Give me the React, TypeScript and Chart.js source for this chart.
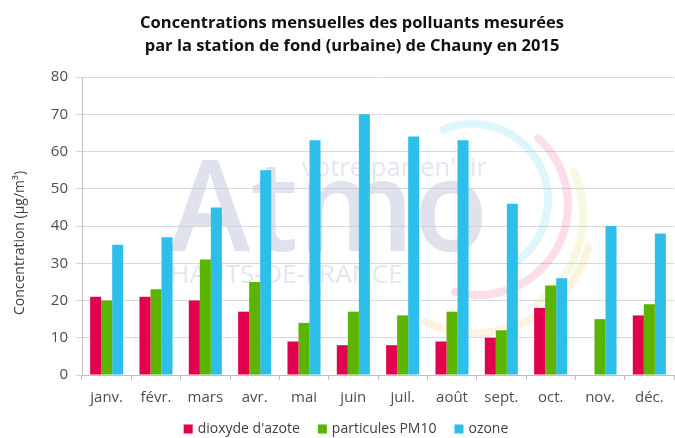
import React, { useEffect, useRef } from "react";
import { Chart, registerables } from "chart.js";

Chart.register(...registerables);

const months = ["janv.", "févr.", "mars", "avr.", "mai", "juin", "juil.", "août", "sept.", "oct.", "nov.", "déc."];
const no2 = [21, 21, 20, 17, 9, 8, 8, 9, 10, 18, null, 16];
const pm10 = [20, 23, 31, 25, 14, 17, 16, 17, 12, 24, 15, 19];
const ozone = [35, 37, 45, 55, 63, 70, 64, 63, 46, 26, 40, 38];
const seriesNames = ["dioxyde d'azote", "particules PM10", "ozone"];
const seriesColors = ["#E2004F", "#5AB400", "#2EBEEA"];
const titleLines = [
  "Concentrations mensuelles des polluants mesurées",
  "par la station de fond (urbaine) de Chauny en 2015",
];
const yAxisTitle = "Concentration (µg/m³)";

const FONT = '"Open Sans", "Noto Sans", sans-serif';

const watermarkPlugin = {
  id: "watermark",
  beforeDatasetsDraw(chart: any) {
    const ctx = chart.ctx;
    ctx.save();
    const arcs = [
      { r: 76, cx: 472, cy: 200, a0: -112, a1: 60, c: "rgba(46,190,234,0.16)" },
      { r: 90, cx: 478, cy: 205, a0: -48, a1: 105, c: "rgba(226,0,79,0.13)" },
      { r: 108, cx: 475, cy: 215, a0: -24, a1: 55, c: "rgba(200,210,40,0.15)" },
      { r: 118, cx: 475, cy: 215, a0: 16, a1: 115, c: "rgba(245,160,40,0.14)" },
    ];
    ctx.lineCap = "round";
    ctx.lineWidth = 8;
    for (const a of arcs) {
      ctx.strokeStyle = a.c;
      ctx.beginPath();
      ctx.arc(a.cx, a.cy, a.r, (a.a0 * Math.PI) / 180, (a.a1 * Math.PI) / 180);
      ctx.stroke();
    }
    ctx.fillStyle = "rgba(196,200,222,0.55)";
    ctx.font = `600 126px ${FONT}`;
    ctx.textBaseline = "alphabetic";
    ctx.textAlign = "left";
    let w = ctx.measureText("Atmo").width;
    ctx.save();
    ctx.translate(170, 251);
    ctx.scale(318 / w, 1);
    ctx.fillText("Atmo", 0, 0);
    ctx.restore();
    ctx.fillStyle = "rgba(200,205,225,0.5)";
    ctx.font = `26px ${FONT}`;
    w = ctx.measureText("HAUTS-DE-FRANCE").width;
    ctx.save();
    ctx.translate(170, 283);
    ctx.scale(233 / w, 1);
    ctx.fillText("HAUTS-DE-FRANCE", 0, 0);
    ctx.restore();
    w = ctx.measureText("votre parten'air").width;
    ctx.save();
    ctx.translate(302, 176);
    ctx.scale(185 / w, 1);
    ctx.fillText("votre parten'air", 0, 0);
    ctx.restore();
    ctx.restore();
  },
};

const textPlugin = {
  id: "texts",
  afterDraw(chart: any) {
    const ctx = chart.ctx;
    ctx.save();
    // title
    ctx.fillStyle = "#111111";
    ctx.font = `bold 16.5px ${FONT}`;
    ctx.textAlign = "center";
    ctx.textBaseline = "middle";
    ctx.fillText(titleLines[0], 352, 23);
    ctx.fillText(titleLines[1], 352, 46);
    // y axis title
    ctx.save();
    ctx.translate(20, 243);
    ctx.rotate(-Math.PI / 2);
    ctx.fillStyle = "#404040";
    ctx.font = `14px ${FONT}`;
    ctx.fillText(yAxisTitle, 0, 0);
    ctx.restore();
    // legend
    ctx.font = `14px ${FONT}`;
    ctx.textAlign = "left";
    const box = 9;
    const gap = 5;
    const itemGap = 18;
    const widths = seriesNames.map((n) => ctx.measureText(n).width);
    const total = widths.reduce((s, x) => s + x + box + gap, 0) + itemGap * (seriesNames.length - 1);
    let x = 346 - total / 2;
    const y = 429;
    seriesNames.forEach((n, i) => {
      ctx.fillStyle = seriesColors[i];
      ctx.fillRect(x, y - box / 2, box, box);
      x += box + gap;
      ctx.fillStyle = "#404040";
      ctx.fillText(n, x, y);
      x += widths[i] + itemGap;
    });
    ctx.restore();
  },
};

export default function App() {
  const ref = useRef<HTMLCanvasElement | null>(null);
  useEffect(() => {
    if (!ref.current) return;
    const chart = new Chart(ref.current, {
      type: "bar",
      data: {
        labels: months,
        datasets: [
          { label: seriesNames[0], data: no2, backgroundColor: seriesColors[0] },
          { label: seriesNames[1], data: pm10, backgroundColor: seriesColors[1] },
          { label: seriesNames[2], data: ozone, backgroundColor: seriesColors[2] },
        ],
      },
      options: {
        animation: false,
        responsive: true,
        maintainAspectRatio: false,
        layout: { padding: { top: 77, left: 0, right: 1, bottom: 0 } },
        datasets: { bar: { categoryPercentage: 0.67, barPercentage: 1.0 } },
        plugins: {
          legend: { display: false },
          title: { display: false },
          tooltip: { enabled: false },
        },
        scales: {
          x: {
            grid: { display: true, drawOnChartArea: false, drawTicks: true, tickLength: 5, color: "#BFBFBF", offset: true },
            border: { color: "#BFBFBF" },
            ticks: { color: "#4D4D4D", font: { family: FONT, size: 15 }, padding: 9 },
            afterFit: (s: any) => {
              s.height = 63;
            },
          },
          y: {
            min: 0,
            max: 80,
            ticks: { stepSize: 10, color: "#4D4D4D", font: { family: FONT, size: 15 }, padding: 8 },
            grid: { color: "#D9D9D9", tickLength: 6 },
            border: { color: "#BFBFBF" },
            afterFit: (s: any) => {
              s.width = 82;
            },
          },
        },
      },
      plugins: [watermarkPlugin, textPlugin],
    });
    return () => chart.destroy();
  }, []);
  return (
    <div style={{ position: "fixed", left: 0, top: 0, width: 675, height: 438, background: "#fff" }}>
      <canvas ref={ref} />
    </div>
  );
}
